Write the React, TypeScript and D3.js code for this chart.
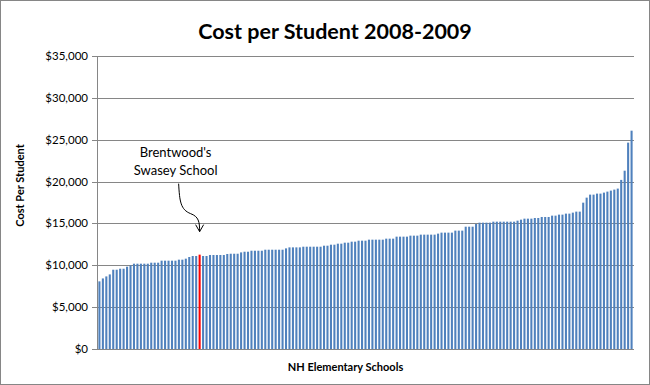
import * as d3 from 'd3';

const W = 650;
const H = 385;

// cost per student, sorted ascending, one entry per NH elementary school
const costs = [
  8080, 8430, 8670, 8910, 9470, 9470, 9590, 9590, 9830, 9990,
  10190, 10190, 10190, 10190, 10190, 10310, 10310, 10310, 10550, 10550,
  10550, 10550, 10550, 10670, 10670, 10790, 10990, 11110, 11110, 11270,
  11110, 11110, 11230, 11230, 11230, 11230, 11230, 11350, 11380, 11380,
  11380, 11540, 11620, 11620, 11740, 11740, 11740, 11740, 11860, 11860,
  11860, 11860, 11860, 11860, 12020, 12140, 12140, 12140, 12140, 12220,
  12220, 12220, 12220, 12220, 12220, 12340, 12340, 12460, 12460, 12580,
  12580, 12700, 12700, 12820, 12820, 12940, 12940, 12940, 13060, 13060,
  13060, 13060, 13060, 13180, 13180, 13180, 13420, 13420, 13420, 13420,
  13540, 13540, 13540, 13660, 13660, 13660, 13660, 13660, 13780, 13900,
  13900, 13900, 13900, 14140, 14140, 14140, 14610, 14610, 14610, 14930,
  15090, 15090, 15090, 15090, 15210, 15210, 15210, 15210, 15210, 15210,
  15210, 15330, 15450, 15570, 15570, 15570, 15650, 15650, 15770, 15770,
  15770, 15930, 15930, 16050, 16050, 16170, 16170, 16290, 16410, 16410,
  17480, 18080, 18440, 18440, 18560, 18560, 18680, 18800, 18920, 19040,
  19160, 20200, 21300, 24650, 26080,
];
const highlightIndex = 29; // Brentwood's Swasey School
const yTicks = [0, 5000, 10000, 15000, 20000, 25000, 30000, 35000];
const title = 'Cost per Student 2008-2009';
const yTitle = 'Cost Per Student';
const xTitle = 'NH Elementary Schools';
const noteLines = ["Brentwood's", 'Swasey School'];

const margin = { top: 56, right: 16, bottom: 36, left: 97 };
const plotRight = W - margin.right;
const plotBottom = H - margin.bottom;

const font = 'Lato, "Open Sans", sans-serif';
const gridColor = '#868686';

export default function App() {
  const x = d3.scaleBand<number>()
    .domain(d3.range(costs.length))
    .range([margin.left, plotRight])
    .paddingInner(0.4)
    .paddingOuter(0.4);

  const y = d3.scaleLinear()
    .domain([0, 35000])
    .range([plotBottom, margin.top]);

  const fmt = (v: number) => '$' + d3.format(',')(v);

  // annotation arrow, anchored above the highlighted bar
  const tipX = (x(highlightIndex) ?? 0) + x.bandwidth() / 2;
  const tipY = y(costs[highlightIndex]) - 23;
  const startX = tipX - 21;
  const startY = tipY - 48;
  const arrow = d3.path();
  arrow.moveTo(startX, startY);
  arrow.bezierCurveTo(startX + 1, startY + 18, startX + 2, startY + 26, startX + 12, startY + 30);
  arrow.bezierCurveTo(startX + 20, startY + 33, tipX, startY + 38, tipX, tipY);

  return (
    <svg width={W} height={H} style={{ position: 'absolute', left: 0, top: 0, background: '#fff' }}>
      <rect x={0.5} y={0.5} width={W - 1} height={H - 1} fill="#fff" stroke={gridColor} />

      <text x={335} y={39} textAnchor="middle" fontFamily={font} fontWeight="bold" fontSize={21.5} fill="#000">
        {title}
      </text>

      {/* gridlines */}
      {yTicks.map(t => (
        <line key={t} x1={margin.left} x2={plotRight} y1={Math.round(y(t)) + 0.5} y2={Math.round(y(t)) + 0.5}
          stroke={gridColor} strokeWidth={1} />
      ))}

      {/* y axis */}
      <line x1={margin.left + 0.5} x2={margin.left + 0.5} y1={margin.top} y2={plotBottom} stroke={gridColor} />
      {yTicks.map(t => (
        <g key={'t' + t}>
          <line x1={margin.left - 5} x2={margin.left} y1={Math.round(y(t)) + 0.5} y2={Math.round(y(t)) + 0.5} stroke={gridColor} />
          <text x={margin.left - 9} y={y(t)} dy="0.35em" textAnchor="end" fontFamily={font} fontSize={11.5} fill="#000">
            {fmt(t)}
          </text>
        </g>
      ))}

      {/* bars */}
      {costs.map((c, i) => (
        <rect key={i} x={x(i)} y={y(c)} width={x.bandwidth()} height={plotBottom - y(c)}
          fill={i === highlightIndex ? '#ff0000' : '#4f81bd'} />
      ))}

      <text transform={`translate(24,${(margin.top + plotBottom) / 2 - 17}) rotate(-90)`} textAnchor="middle"
        fontFamily={font} fontWeight="bold" fontSize={11} fill="#000">
        {yTitle}
      </text>
      <text x={(margin.left + plotRight) / 2 - 20} y={371} textAnchor="middle" fontFamily={font} fontWeight="bold"
        fontSize={11} fill="#000">
        {xTitle}
      </text>

      {/* annotation */}
      {noteLines.map((l, i) => (
        <text key={l} x={startX - 3} y={157 + i * 17.5} textAnchor="middle" fontFamily={font} fontSize={13} fill="#000">
          {l}
        </text>
      ))}
      <path d={arrow.toString()} fill="none" stroke="#000" strokeWidth={1} />
      <path d={`M${tipX - 4},${tipY - 7}L${tipX},${tipY}L${tipX + 4},${tipY - 7}`} fill="none" stroke="#000" strokeWidth={1} />
    </svg>
  );
}
